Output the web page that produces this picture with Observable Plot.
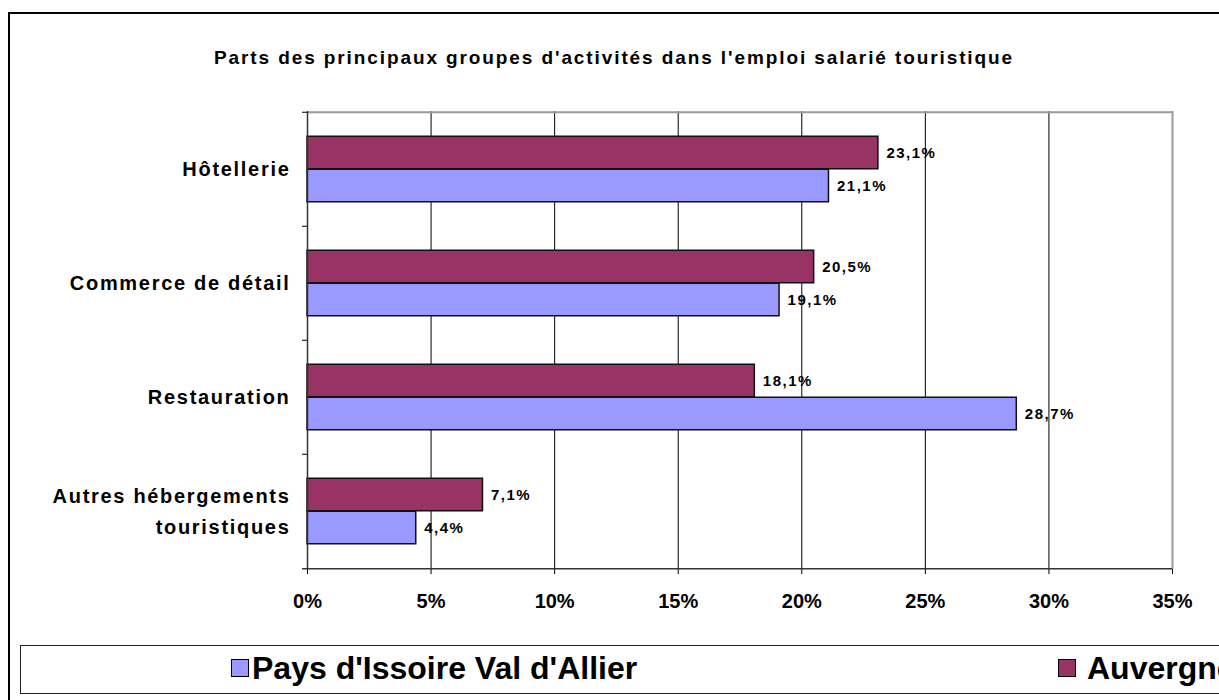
<!DOCTYPE html>
<html><head><meta charset="utf-8">
<script src="https://cdn.jsdelivr.net/npm/d3@7"></script>
<script src="https://cdn.jsdelivr.net/npm/@observablehq/plot@0.6"></script>
<style>
body{margin:0;background:#fff;font-family:"Liberation Sans",Arial,sans-serif;overflow:hidden;width:1219px;height:700px;position:relative}
#border{position:absolute;left:8px;top:12px;width:1300px;height:800px;border:2px solid #000;box-sizing:border-box}
#title{position:absolute;top:48px;left:0;width:1228px;text-align:center;font-weight:bold;font-size:19px;line-height:20px;letter-spacing:1.9px;color:#000}
#chart{position:absolute;left:0;top:90px}
#legend{position:absolute;left:20px;top:645px;width:1300px;height:49px;border:1px solid #222;box-sizing:border-box}
.item{position:absolute;top:6px;height:32px;font-weight:bold;font-size:32px;line-height:32px;white-space:nowrap;color:#000}
.sw{position:absolute;top:7px;width:16px;height:16px;border:1px solid #000}
.item span.t{position:absolute;left:21px;top:0}
g[aria-label="y-axis tick label"]{letter-spacing:1.7px}
g[aria-label="text"]{letter-spacing:1.5px}
</style>
</head><body>
<div id="border"></div>
<div id="title">Parts des principaux groupes d'activités dans l'emploi salarié touristique</div>
<div id="chart"></div>
<div id="legend"></div>
<script>
const categories = ["Hôtellerie", "Commerce de détail", "Restauration", "Autres hébergements touristiques"];
const series = ["Pays d'Issoire Val d'Allier", "Auvergne"];
const paysValues = [21.1, 19.1, 28.7, 4.4];
const auvergneValues = [23.1, 20.5, 18.1, 7.1];
const xTicks = [0, 5, 10, 15, 20, 25, 30, 35];
const seriesColors = ["#9999FF", "#993366"];

const rows = categories.flatMap((c, i) => [
  {category: c, series: series[1], value: auvergneValues[i]},
  {category: c, series: series[0], value: paysValues[i]}
]);

const W = 1219, H = 540, mt = 21, mb = 61, ml = 307, mr = 47;
const bw = (H - mt - mb) / categories.length;
const barH = 33;
const gap = (bw - 2 * barH) / 2;
const fmt = d => d.toFixed(1).replace(".", ",") + "%";
const labelFmt = d => d === "Autres hébergements touristiques" ? "Autres hébergements\ntouristiques" : d;

const isA = d => d.series === series[1];
const isP = d => d.series === series[0];

const chart = Plot.plot({
  width: W, height: H, marginTop: mt, marginBottom: mb, marginLeft: ml, marginRight: mr,
  style: {fontFamily: "'Liberation Sans', Arial, sans-serif", fontWeight: "bold", color: "#000", background: "transparent", overflow: "visible"},
  x: {domain: [0, 35]},
  y: {domain: categories, padding: 0},
  color: {domain: series, range: seriesColors},
  marks: [
    Plot.ruleX(xTicks.slice(1, -1), {stroke: "#000", strokeWidth: 1}),
    Plot.ruleX([35], {stroke: "#999", strokeWidth: 2}),
    Plot.ruleY([categories[0]], {dy: -bw / 2, stroke: "#999", strokeWidth: 2}),
    Plot.barX(rows, {filter: isA, x: "value", y: "category", fill: "series", stroke: "#111", strokeWidth: 1.5, insetTop: gap, insetBottom: gap + barH}),
    Plot.barX(rows, {filter: isP, x: "value", y: "category", fill: "series", stroke: "#111", strokeWidth: 1.5, insetTop: gap + barH, insetBottom: gap}),
    Plot.ruleX([0], {stroke: "#333", strokeWidth: 1.5}),
    Plot.ruleY([categories[categories.length - 1]], {dy: bw / 2, insetLeft: -5, stroke: "#333", strokeWidth: 1.5}),
    Plot.axisX({ticks: xTicks, tickSize: 5, tickPadding: 19, tickFormat: d => d + "%", fontSize: 20, label: null}),
    Plot.axisY({tickSize: 0, tickPadding: 17, fontSize: 20, lineHeight: 1.55, dy: -3, tickFormat: labelFmt, label: null}),
    Plot.axisY({tickSize: 5, tickFormat: () => "", dy: -bw / 2, label: null}),
    Plot.text(rows, {filter: isA, x: "value", y: "category", text: d => fmt(d.value), dx: 8, dy: -barH / 2, textAnchor: "start", fontSize: 15, fill: "#000"}),
    Plot.text(rows, {filter: isP, x: "value", y: "category", text: d => fmt(d.value), dx: 8, dy: barH / 2, textAnchor: "start", fontSize: 15, fill: "#000"})
  ]
});
document.getElementById("chart").appendChild(chart);

const legendPos = [210, 1037];
const legendTextGap = [21, 29];
const legend = document.getElementById("legend");
series.forEach((s, i) => {
  const item = document.createElement("div");
  item.className = "item";
  item.style.left = legendPos[i] + "px";
  item.innerHTML = `<div class="sw" style="background:${seriesColors[i]}"></div><span class="t" style="left:${legendTextGap[i]}px"></span>`;
  item.querySelector(".t").textContent = s;
  legend.appendChild(item);
});
</script>
</body></html>
